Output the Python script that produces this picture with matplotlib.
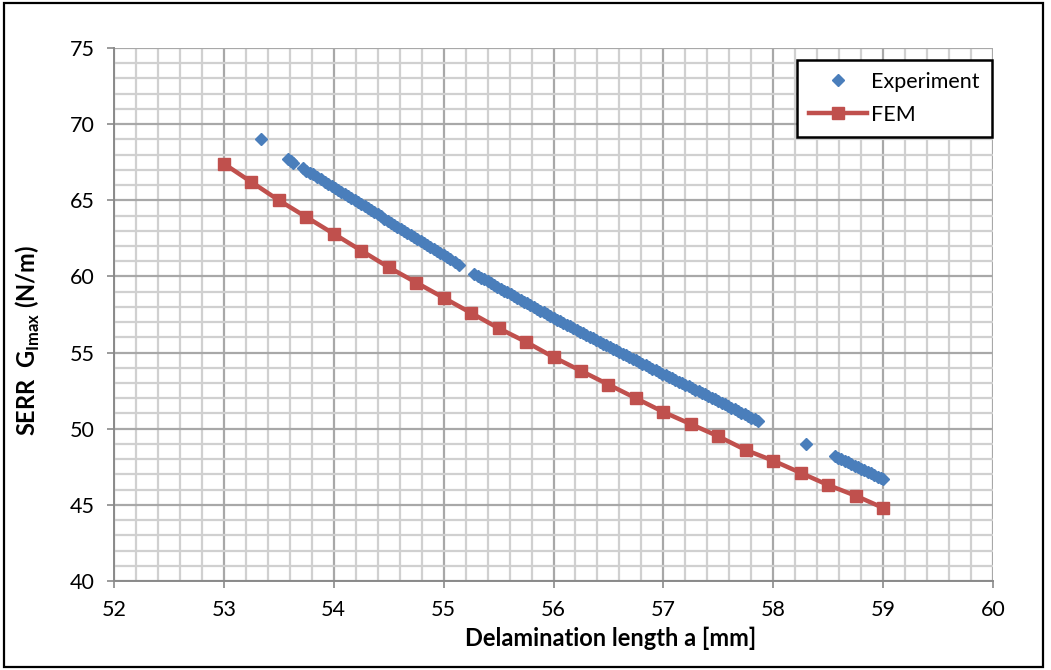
import matplotlib
matplotlib.use("Agg")
import matplotlib.pyplot as plt
from matplotlib.ticker import MultipleLocator
from matplotlib.patches import Rectangle

plt.rcParams['font.family'] = ['Lato', 'DejaVu Sans']
plt.rcParams['mathtext.fontset'] = 'custom'
plt.rcParams['mathtext.rm'] = 'Lato'
plt.rcParams['mathtext.bf'] = 'Lato:bold'

# FEM series
fem_x = [53.00, 53.25, 53.50, 53.75, 54.00, 54.25, 54.50, 54.75, 55.00, 55.25,
         55.50, 55.75, 56.00, 56.25, 56.50, 56.75, 57.00, 57.25, 57.50, 57.75,
         58.00, 58.25, 58.50, 58.75, 59.00]
fem_y = [67.4, 66.2, 65.0, 63.9, 62.8, 61.7, 60.6, 59.6, 58.6, 57.6,
         56.6, 55.7, 54.7, 53.8, 52.9, 52.0, 51.1, 50.3, 49.5, 48.6,
         47.9, 47.1, 46.3, 45.6, 44.8]

# Experiment series
exp_x = [53.34,
         53.58, 53.61, 53.63, 53.72, 53.75, 53.78, 53.81, 53.85, 53.88, 53.92,
         53.95, 53.98, 54.01, 54.04, 54.07, 54.10, 54.13, 54.16, 54.19, 54.22,
         54.25, 54.28, 54.31, 54.34, 54.37, 54.40, 54.43, 54.46, 54.49, 54.52,
         54.55, 54.58, 54.61, 54.64, 54.67, 54.70, 54.73, 54.76, 54.79, 54.82,
         54.85, 54.88, 54.91, 54.94, 54.97, 55.00, 55.03, 55.06, 55.10, 55.14,
         55.28, 55.31, 55.34, 55.37, 55.40, 55.43, 55.46, 55.49, 55.52, 55.55,
         55.58, 55.61, 55.64, 55.67, 55.70, 55.73, 55.76, 55.79, 55.82, 55.85,
         55.88, 55.91, 55.94, 55.97, 56.00, 56.03, 56.06, 56.09, 56.12, 56.15,
         56.18, 56.21, 56.24, 56.27, 56.30, 56.33, 56.36, 56.39, 56.42, 56.45,
         56.48, 56.51, 56.54, 56.57, 56.60, 56.63, 56.66, 56.69, 56.72, 56.75,
         56.78, 56.81, 56.84, 56.87, 56.90, 56.93, 56.96, 56.99, 57.02, 57.05,
         57.08, 57.11, 57.14, 57.17, 57.20, 57.23, 57.26, 57.29, 57.32, 57.35,
         57.38, 57.41, 57.44, 57.47, 57.50, 57.53, 57.56, 57.59, 57.62, 57.65,
         57.68, 57.71, 57.74, 57.77, 57.80, 57.83, 57.86,
         58.30,
         58.56, 58.59, 58.62, 58.65, 58.68, 58.71, 58.74, 58.77, 58.80, 58.83,
         58.86, 58.89, 58.92, 58.95, 58.98, 59.00]
exp_y = [69.05,
         67.68, 67.55, 67.48, 67.10, 66.95, 66.82, 66.70, 66.52, 66.38, 66.21,
         66.08, 65.93, 65.79, 65.66, 65.54, 65.41, 65.27, 65.14, 65.00, 64.87,
         64.74, 64.60, 64.47, 64.34, 64.20, 64.07, 63.94, 63.80, 63.67, 63.54,
         63.40, 63.27, 63.14, 63.00, 62.87, 62.74, 62.60, 62.47, 62.34, 62.20,
         62.07, 61.94, 61.80, 61.67, 61.54, 61.40, 61.27, 61.13, 60.96, 60.78,
         60.16, 60.04, 59.92, 59.80, 59.68, 59.55, 59.43, 59.31, 59.19, 59.07,
         58.95, 58.83, 58.71, 58.59, 58.47, 58.35, 58.23, 58.11, 57.99, 57.87,
         57.76, 57.64, 57.52, 57.40, 57.28, 57.17, 57.06, 56.94, 56.83, 56.72,
         56.60, 56.49, 56.38, 56.26, 56.15, 56.04, 55.93, 55.81, 55.70, 55.59,
         55.47, 55.36, 55.25, 55.14, 55.03, 54.93, 54.82, 54.71, 54.60, 54.49,
         54.38, 54.27, 54.16, 54.05, 53.94, 53.83, 53.72, 53.62, 53.51, 53.41,
         53.30, 53.20, 53.09, 52.99, 52.88, 52.78, 52.67, 52.57, 52.46, 52.36,
         52.25, 52.15, 52.04, 51.94, 51.83, 51.72, 51.61, 51.50, 51.39, 51.28,
         51.17, 51.06, 50.95, 50.84, 50.73, 50.62, 50.50,
         49.00,
         48.20, 48.10, 48.00, 47.89, 47.79, 47.69, 47.58, 47.48, 47.38, 47.28,
         47.17, 47.07, 46.97, 46.86, 46.76, 46.70]

x_ticks = [52, 53, 54, 55, 56, 57, 58, 59, 60]
y_ticks = [40, 45, 50, 55, 60, 65, 70, 75]

W, H = 1051, 670
fig = plt.figure(figsize=(W / 100, H / 100), dpi=100)
ax = fig.add_axes([114 / W, 1 - 581 / H, (993 - 114) / W, (581 - 48) / H])

blue = '#4A7EBB'
red = '#C0504D'

ax.set_xlim(52, 60)
ax.set_ylim(40, 75)
ax.set_xticks(x_ticks)
ax.set_yticks(y_ticks)
ax.xaxis.set_minor_locator(MultipleLocator(0.2))
ax.yaxis.set_minor_locator(MultipleLocator(1))
ax.grid(which='minor', color='#D0D0D0', linewidth=1.6)
ax.grid(which='major', color='#A8A8A8', linewidth=1.6)
ax.set_axisbelow(True)
ax.tick_params(which='major', direction='out', length=5, width=1.2,
               color='#8A8A8A', labelsize=15.5, pad=9)
ax.tick_params(which='minor', length=0)
for s in ['top', 'right']:
    ax.spines[s].set_visible(False)
for s in ['left', 'bottom']:
    ax.spines[s].set_color('#8A8A8A')
    ax.spines[s].set_linewidth(1.4)

ax.plot(fem_x, fem_y, color=red, linewidth=3.2, marker='s', markersize=8.8,
        label='FEM', zorder=3)
ax.plot(exp_x, exp_y, linestyle='none', color=blue, marker='D', markersize=6.3,
        label='Experiment', zorder=4)

ax.set_xlabel('Delamination length a [mm]', fontsize=17, fontweight='bold',
              labelpad=7)
ax.xaxis.set_label_coords((611 - 114) / 879, -0.085)
ax.set_ylabel(r'SERR  $\mathbf{G}_{\mathbf{Imax}}$ (N/m)', fontsize=17,
              fontweight='bold')
ax.yaxis.set_label_coords(-0.082, (581 - 340) / 533)

h, l = ax.get_legend_handles_labels()
leg = ax.legend([h[1], h[0]], [l[1], l[0]], loc='upper left',
                bbox_to_anchor=((797 - 114) / 879, (581 - 60) / 533),
                borderaxespad=0, fontsize=15.5, frameon=True, fancybox=False,
                handlelength=2.7, labelspacing=0.6, borderpad=0.55,
                handletextpad=0.2)
leg.get_frame().set_edgecolor('black')
leg.get_frame().set_linewidth(1.8)
leg.get_frame().set_alpha(1)

fig.patches.append(Rectangle((4 / W, 1 - 667 / H), (1043 - 4) / W, (667 - 3) / H,
                             transform=fig.transFigure, fill=False,
                             edgecolor='black', linewidth=1.6))

fig.savefig('out.png', dpi=100)
